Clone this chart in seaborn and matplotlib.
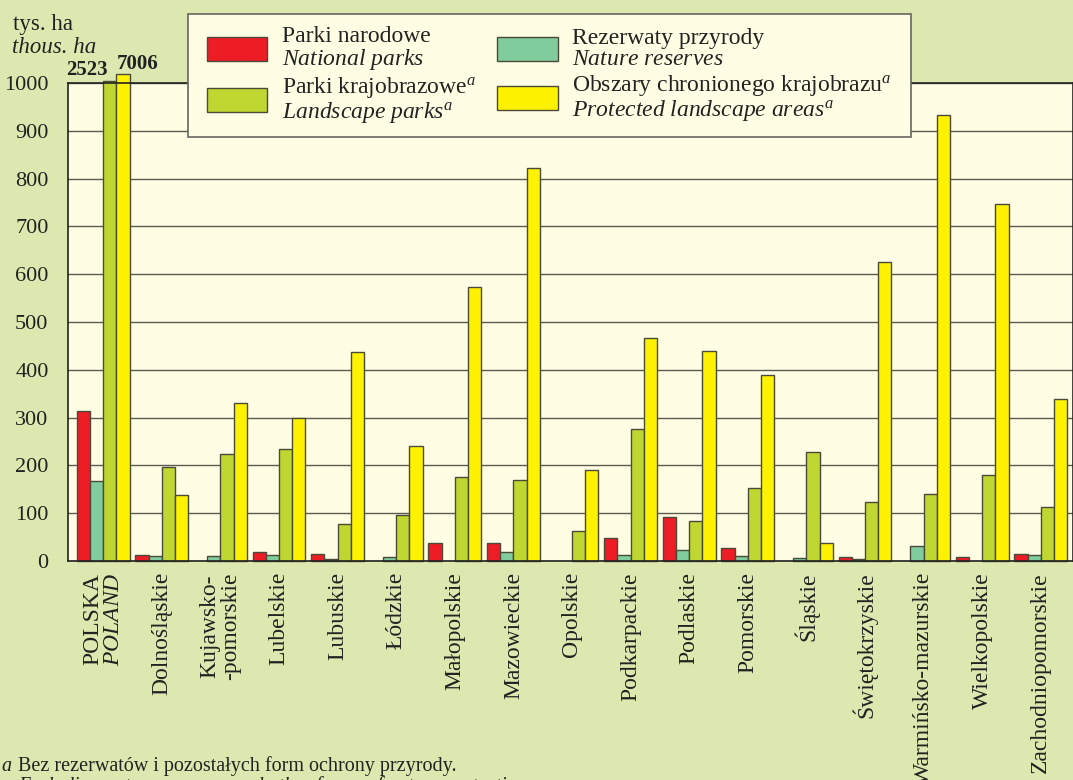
import numpy as np
import pandas as pd
import matplotlib
matplotlib.use("Agg")
import matplotlib.pyplot as plt
import seaborn as sns

# ---------------- data ----------------
regions = ["POLSKA\n$\\mathit{POLAND}$", "Dolnośląskie", "Kujawsko-\n-pomorskie", "Lubelskie",
           "Lubuskie", "Łódzkie", "Małopolskie", "Mazowieckie", "Opolskie", "Podkarpackie",
           "Podlaskie", "Pomorskie", "Śląskie", "Świętokrzyskie", "Warmińsko-mazurskie",
           "Wielkopolskie", "Zachodniopomorskie"]
national_parks = [314, 13, 0, 18, 14, 0, 38, 38, 0, 48, 92, 27, 0, 8, 0, 8, 15]
nature_reserves = [167, 11, 10, 13, 4, 8, 0, 18, 0, 12, 24, 10, 6, 4, 31, 0, 13]
landscape_parks = [2523, 196, 224, 235, 77, 97, 176, 169, 62, 276, 84, 152, 228, 124, 140, 179, 113]
protected_areas = [7006, 139, 331, 299, 438, 241, 573, 823, 191, 466, 440, 390, 37, 626, 933, 747, 338]
series_names = ["Parki narodowe", "Rezerwaty przyrody", "Parki krajobrazowe", "Obszary chronionego krajobrazu"]
legend_labels = [
    "Parki narodowe\n$\\mathit{National\\ parks}$",
    "Rezerwaty przyrody\n$\\mathit{Nature\\ reserves}$",
    "Parki krajobrazowe$^{a}$\n$\\mathit{Landscape\\ parks}^{a}$",
    "Obszary chronionego krajobrazu$^{a}$\n$\\mathit{Protected\\ landscape\\ areas}^{a}$",
]
colors = ["#ee1c25", "#80cc9c", "#bfd730", "#fff200"]

# ---------------- style ----------------
sns.set_style("white")
plt.rcParams["font.family"] = ["Liberation Serif", "DejaVu Serif"]
plt.rcParams["mathtext.fontset"] = "custom"
plt.rcParams["mathtext.rm"] = "Liberation Serif"
plt.rcParams["mathtext.it"] = "Liberation Serif:italic"
plt.rcParams["mathtext.bf"] = "Liberation Serif:bold"

AX_TOP = 1000
caps = {2: 1005, 3: 1018}  # visual cap for off-scale (broken) bars

series = [national_parks, nature_reserves, landscape_parks, protected_areas]
rows = []
for si, (name, vals) in enumerate(zip(series_names, series)):
    for r, v in zip(regions, vals):
        shown = min(v, caps.get(si, AX_TOP)) if v > AX_TOP else v
        rows.append({"region": r, "type": name, "value": shown})
df = pd.DataFrame(rows)

TXT = "#222222"
W, H = 1073, 780
fig = plt.figure(figsize=(10.73, 7.8), dpi=100, facecolor="#dce8b0")
ax = fig.add_axes([68 / W, 1 - 561 / H, 1 - 68 / W, (561 - 83) / H])
ax.set_facecolor("#fffde3")

sns.barplot(data=df, x="region", y="value", hue="type", hue_order=series_names,
            order=regions, palette=colors, width=0.9, edgecolor="#4a4a3a",
            linewidth=1.0, saturation=1, ax=ax, errorbar=None)
for p in ax.patches:
    p.set_clip_on(False)
    if p.get_height() == 0:
        p.set_visible(False)

ax.set_xlim(-0.6, 16.55)
ax.set_ylim(0, AX_TOP)
ax.set_yticks(np.arange(0, 1001, 100))
ax.yaxis.grid(True, color="#5a5a50", lw=1.0)
ax.set_axisbelow(True)
ax.set_xlabel("")
ax.set_ylabel("")
ax.tick_params(axis="both", length=0, colors=TXT)
ax.tick_params(axis="y", pad=14, labelsize=16)
ax.tick_params(axis="x", pad=8, labelsize=17)
plt.setp(ax.get_xticklabels(), rotation=90, ha="center", va="top", linespacing=0.95)
for s in ax.spines.values():
    s.set_color(TXT)
    s.set_linewidth(1.2)

# labels for broken bars (values above the axis top)
fig.text(108 / W, 1 - 75 / H, f"{landscape_parks[0]}", ha="right", va="baseline",
         fontsize=15, fontweight="bold", color=TXT)
fig.text(117 / W, 1 - 69 / H, f"{protected_areas[0]}", ha="left", va="baseline",
         fontsize=15, fontweight="bold", color=TXT)

# legend
ax.legend_.remove()
handles = [plt.Rectangle((0, 0), 1, 1, facecolor=c, edgecolor="#4a4a3a", lw=1.0) for c in colors]
order = [0, 2, 1, 3]
leg = fig.legend([handles[i] for i in order], [legend_labels[i] for i in order],
                 ncol=2, loc="upper left", bbox_to_anchor=(200 / W, 1 - 19 / H),
                 frameon=True, fancybox=False, fontsize=17, handlelength=2.55,
                 handleheight=1.2, labelspacing=0.12, columnspacing=0.9,
                 handletextpad=0.62, borderpad=0.3, borderaxespad=0)
for t in leg.get_texts():
    t.set_linespacing(1.0)
    t.set_color(TXT)
frame = leg.get_frame()
frame.set_boxstyle("square", pad=0.5)
frame.set_mutation_aspect(0.42)
frame.set_facecolor("#fffde3")
frame.set_edgecolor("#666660")
frame.set_linewidth(1.2)
frame.set_alpha(1)

# unit labels
fig.text(13 / W, 1 - 30 / H, "tys. ha", fontsize=16.5, color=TXT, va="baseline")
fig.text(12 / W, 1 - 53 / H, "thous. ha", fontsize=16.5, style="italic", color=TXT, va="baseline")

# footnote
fig.text(1 / W, 1 - 771 / H, "a", fontsize=14.5, style="italic", color=TXT, va="baseline")
fig.text(18 / W, 1 - 771 / H, "Bez rezerwatów i pozostałych form ochrony przyrody.",
         fontsize=14.5, color=TXT, va="baseline")
fig.text(18 / W, 1 - 791 / H, "Excluding nature reserves and other forms of nature protection.",
         fontsize=14.5, style="italic", color=TXT, va="baseline")

fig.savefig("out.png", dpi=100, facecolor=fig.get_facecolor())
